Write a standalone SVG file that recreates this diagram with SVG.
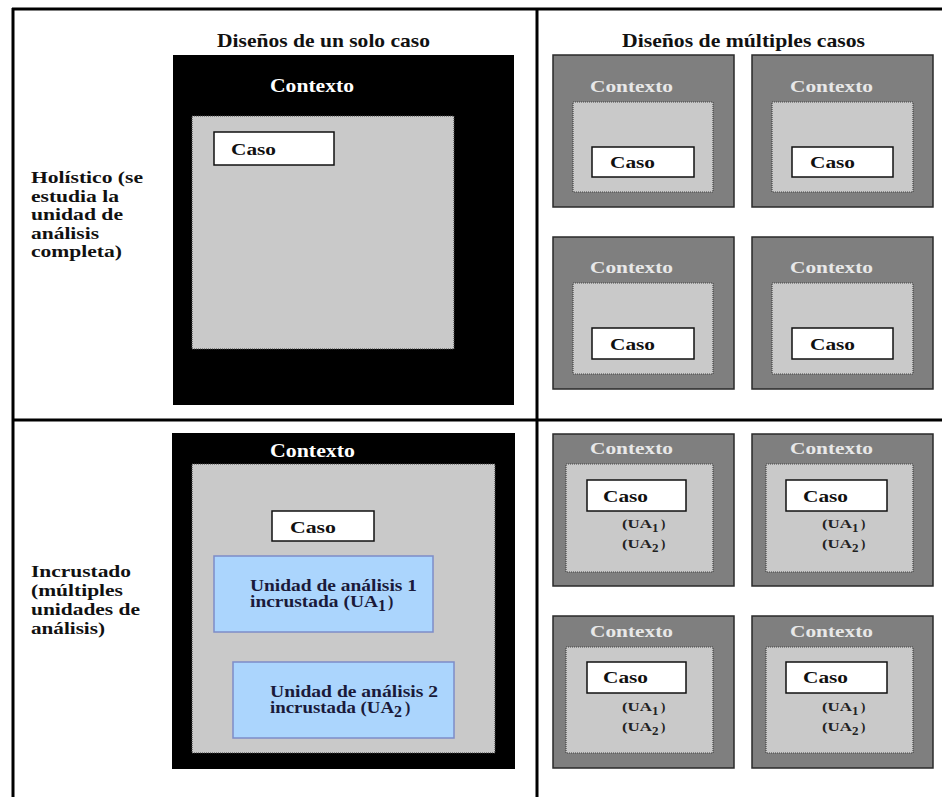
<svg xmlns="http://www.w3.org/2000/svg" width="942" height="797" viewBox="0 0 942 797">
<style>
.t{font-family:"Liberation Serif","Times New Roman",serif;font-weight:bold;fill:#111}
.hd{font-size:19px}
.lb{font-size:16px}
.cx{font-size:16px;fill:#e8e8e8}
.cxw{font-size:18px;fill:#fff}
.cs{font-size:17px}
.ua{font-size:13px;fill:#222}
.bt{font-size:16px;fill:#1a1a3a}
.outer{fill:#7f7f7f;stroke:#2a2a2a;stroke-width:1.5}
.inner{fill:#c9c9c9;stroke:#444;stroke-width:1.2;stroke-dasharray:1 1}
.caso{fill:#fff;stroke:#111;stroke-width:1.5}
.blue{fill:#abd5fd;stroke:#7d8cc8;stroke-width:1.5}
.frame{stroke:#000;stroke-width:3;fill:none}
</style>
<rect width="942" height="797" fill="#fff"/>
<g id="frame">
<line class="frame" x1="12" y1="9" x2="942" y2="9"/>
<line class="frame" x1="13" y1="8" x2="13" y2="797"/>
<line class="frame" x1="537" y1="9" x2="537" y2="797"/>
<line class="frame" x1="13" y1="420" x2="942" y2="420"/>
</g>
<g id="headers">
<text class="t hd" x="217" y="47" textLength="213" lengthAdjust="spacingAndGlyphs">Diseños de un solo caso</text>
<text class="t hd" x="622" y="47" textLength="243" lengthAdjust="spacingAndGlyphs">Diseños de múltiples casos</text>
</g>
<g id="label-holistico">
<text class="t lb" x="31" y="183" textLength="112" lengthAdjust="spacingAndGlyphs">Holístico (se</text>
<text class="t lb" x="31" y="201.5" textLength="88" lengthAdjust="spacingAndGlyphs">estudia la</text>
<text class="t lb" x="31" y="220" textLength="92" lengthAdjust="spacingAndGlyphs">unidad de</text>
<text class="t lb" x="31" y="238.5" textLength="68" lengthAdjust="spacingAndGlyphs">análisis</text>
<text class="t lb" x="31" y="257" textLength="91" lengthAdjust="spacingAndGlyphs">completa)</text>
</g>
<g id="label-incrustado">
<text class="t lb" x="31" y="577" textLength="100" lengthAdjust="spacingAndGlyphs">Incrustado</text>
<text class="t lb" x="31" y="596" textLength="92" lengthAdjust="spacingAndGlyphs">(múltiples</text>
<text class="t lb" x="31" y="615" textLength="109" lengthAdjust="spacingAndGlyphs">unidades de</text>
<text class="t lb" x="31" y="634" textLength="74" lengthAdjust="spacingAndGlyphs">análisis)</text>
</g>
<g id="single-holistic">
<rect x="173" y="55" width="341" height="350" fill="#000"/>
<text class="t cxw" x="270" y="92" textLength="84" lengthAdjust="spacingAndGlyphs">Contexto</text>
<rect class="inner" x="192" y="116" width="262" height="233" fill="#cbcbcb"/>
<rect class="caso" x="214" y="132" width="120" height="33"/>
<text class="t cs" x="231" y="155" textLength="45" lengthAdjust="spacingAndGlyphs">Caso</text>
</g>
<g id="multi-holistic-1">
<rect class="outer" x="553" y="55" width="181" height="152"/>
<text class="t cx" x="590" y="92" textLength="83" lengthAdjust="spacingAndGlyphs">Contexto</text>
<rect class="inner" x="573" y="102" width="140" height="90"/>
<rect class="caso" x="592" y="147" width="102" height="30"/>
<text class="t cs" x="610" y="168" textLength="45" lengthAdjust="spacingAndGlyphs">Caso</text>
</g>
<g id="multi-holistic-2">
<rect class="outer" x="752" y="55" width="181" height="152"/>
<text class="t cx" x="790" y="92" textLength="83" lengthAdjust="spacingAndGlyphs">Contexto</text>
<rect class="inner" x="772" y="102" width="141" height="90"/>
<rect class="caso" x="792" y="147" width="101" height="30"/>
<text class="t cs" x="810" y="168" textLength="45" lengthAdjust="spacingAndGlyphs">Caso</text>
</g>
<g id="multi-holistic-3">
<rect class="outer" x="553" y="237" width="181" height="152"/>
<text class="t cx" x="590" y="273" textLength="83" lengthAdjust="spacingAndGlyphs">Contexto</text>
<rect class="inner" x="573" y="283" width="140" height="91"/>
<rect class="caso" x="592" y="328" width="102" height="31"/>
<text class="t cs" x="610" y="350" textLength="45" lengthAdjust="spacingAndGlyphs">Caso</text>
</g>
<g id="multi-holistic-4">
<rect class="outer" x="752" y="237" width="181" height="152"/>
<text class="t cx" x="790" y="273" textLength="83" lengthAdjust="spacingAndGlyphs">Contexto</text>
<rect class="inner" x="772" y="283" width="141" height="91"/>
<rect class="caso" x="792" y="328" width="101" height="31"/>
<text class="t cs" x="810" y="350" textLength="45" lengthAdjust="spacingAndGlyphs">Caso</text>
</g>
<g id="single-embedded">
<rect x="172" y="433" width="343" height="336" fill="#000"/>
<rect class="inner" x="192" y="464" width="303" height="289" fill="#c6c6c6"/>
<text class="t cxw" x="270" y="457" textLength="85" lengthAdjust="spacingAndGlyphs">Contexto</text>
<rect class="caso" x="272" y="511" width="102" height="30"/>
<text class="t cs" x="290" y="533" textLength="46" lengthAdjust="spacingAndGlyphs">Caso</text>
<rect class="blue" x="214" y="556" width="219" height="76"/>
<text class="t bt" x="250" y="591" textLength="167" lengthAdjust="spacingAndGlyphs">Unidad de análisis 1</text>
<text class="t bt" y="607"><tspan x="250" textLength="128" lengthAdjust="spacingAndGlyphs">incrustada (UA</tspan><tspan x="378" dy="4">1</tspan><tspan x="388" dy="-4">)</tspan></text>
<rect class="blue" x="233" y="662" width="221" height="76"/>
<text class="t bt" x="270" y="697" textLength="168" lengthAdjust="spacingAndGlyphs">Unidad de análisis 2</text>
<text class="t bt" y="713"><tspan x="270" textLength="124" lengthAdjust="spacingAndGlyphs">incrustada (UA</tspan><tspan x="394" dy="4">2</tspan><tspan x="405" dy="-4">)</tspan></text>
</g>
<g id="multi-embedded-1">
<rect class="outer" x="553" y="434" width="181" height="152"/>
<text class="t cx" x="590" y="454" textLength="83" lengthAdjust="spacingAndGlyphs">Contexto</text>
<rect class="inner" x="566" y="464" width="147" height="108"/>
<rect class="caso" x="587" y="480" width="99" height="31"/>
<text class="t cs" x="603" y="502" textLength="45" lengthAdjust="spacingAndGlyphs">Caso</text>
<text class="t ua" y="528"><tspan x="622" textLength="30" lengthAdjust="spacingAndGlyphs">(UA</tspan><tspan x="652" dy="4">1</tspan><tspan x="661" dy="-4">)</tspan></text>
<text class="t ua" y="548"><tspan x="622" textLength="30" lengthAdjust="spacingAndGlyphs">(UA</tspan><tspan x="652" dy="4">2</tspan><tspan x="661" dy="-4">)</tspan></text>
</g>
<g id="multi-embedded-2">
<rect class="outer" x="752" y="434" width="181" height="152"/>
<text class="t cx" x="790" y="454" textLength="83" lengthAdjust="spacingAndGlyphs">Contexto</text>
<rect class="inner" x="766" y="464" width="147" height="108"/>
<rect class="caso" x="786" y="480" width="101" height="31"/>
<text class="t cs" x="803" y="502" textLength="45" lengthAdjust="spacingAndGlyphs">Caso</text>
<text class="t ua" y="528"><tspan x="822" textLength="30" lengthAdjust="spacingAndGlyphs">(UA</tspan><tspan x="852" dy="4">1</tspan><tspan x="861" dy="-4">)</tspan></text>
<text class="t ua" y="548"><tspan x="822" textLength="30" lengthAdjust="spacingAndGlyphs">(UA</tspan><tspan x="852" dy="4">2</tspan><tspan x="861" dy="-4">)</tspan></text>
</g>
<g id="multi-embedded-3">
<rect class="outer" x="553" y="616" width="181" height="152"/>
<text class="t cx" x="590" y="637" textLength="83" lengthAdjust="spacingAndGlyphs">Contexto</text>
<rect class="inner" x="566" y="647" width="147" height="106"/>
<rect class="caso" x="587" y="662" width="99" height="31"/>
<text class="t cs" x="603" y="683" textLength="45" lengthAdjust="spacingAndGlyphs">Caso</text>
<text class="t ua" y="711"><tspan x="622" textLength="30" lengthAdjust="spacingAndGlyphs">(UA</tspan><tspan x="652" dy="4">1</tspan><tspan x="661" dy="-4">)</tspan></text>
<text class="t ua" y="731"><tspan x="622" textLength="30" lengthAdjust="spacingAndGlyphs">(UA</tspan><tspan x="652" dy="4">2</tspan><tspan x="661" dy="-4">)</tspan></text>
</g>
<g id="multi-embedded-4">
<rect class="outer" x="752" y="616" width="181" height="152"/>
<text class="t cx" x="790" y="637" textLength="83" lengthAdjust="spacingAndGlyphs">Contexto</text>
<rect class="inner" x="766" y="647" width="147" height="106"/>
<rect class="caso" x="786" y="662" width="101" height="31"/>
<text class="t cs" x="803" y="683" textLength="45" lengthAdjust="spacingAndGlyphs">Caso</text>
<text class="t ua" y="711"><tspan x="822" textLength="30" lengthAdjust="spacingAndGlyphs">(UA</tspan><tspan x="852" dy="4">1</tspan><tspan x="861" dy="-4">)</tspan></text>
<text class="t ua" y="731"><tspan x="822" textLength="30" lengthAdjust="spacingAndGlyphs">(UA</tspan><tspan x="852" dy="4">2</tspan><tspan x="861" dy="-4">)</tspan></text>
</g>
<g id="connectors"></g>
</svg>
